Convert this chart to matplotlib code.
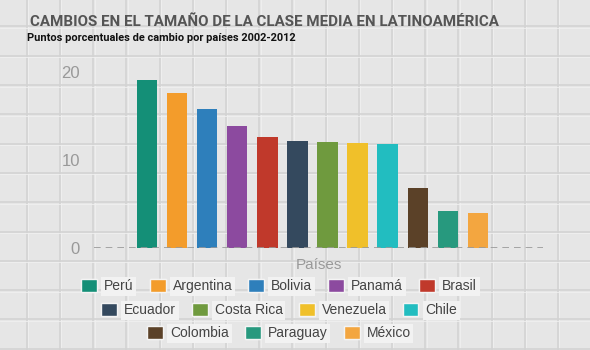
import numpy as np
import matplotlib.pyplot as plt
from matplotlib.lines import Line2D
from matplotlib.patches import Patch

paises = ['Perú', 'Argentina', 'Bolivia', 'Panamá', 'Brasil', 'Ecuador',
          'Costa Rica', 'Venezuela', 'Chile', 'Colombia', 'Paraguay', 'México']
cambio = [19.1, 17.6, 15.8, 13.9, 12.6, 12.2, 12.1, 11.95, 11.8, 6.85, 4.25, 3.95]
colores = ['#148f77', '#f39c2b', '#2e7fbb', '#8c4a9f', '#c0392b', '#34495e',
           '#6f9a3e', '#f0c02a', '#22bdc0', '#5b4128', '#27997e', '#f3a640']
yticks = [0, 10, 20]

W, H = 590, 350
fig = plt.figure(figsize=(5.9, 3.5), dpi=100, facecolor='#e6e6e6')

# tiled background
for x in np.arange(26.7, W, 33.2):
    fig.add_artist(Line2D([x / W, x / W], [0, 1], color='#d3d3d3', lw=1.2, zorder=0))
    fig.add_artist(Line2D([(x + 1.5) / W, (x + 1.5) / W], [0, 1], color='#f0f0f0', lw=0.6, zorder=0))
for y in np.arange(26.4, H, 29.3):
    fig.add_artist(Line2D([0, 1], [1 - y / H, 1 - y / H], color='#d3d3d3', lw=1.2, zorder=0))
    fig.add_artist(Line2D([0, 1], [1 - (y + 1.5) / H, 1 - (y + 1.5) / H], color='#f0f0f0', lw=0.6, zorder=0))

# axes: x from 94 to 543 px, y=0 at 248 px, y=20 at 72 px
y0, y20 = 248, 72
ymax = 23
ytop = y0 - (y0 - y20) * ymax / 20
ax = fig.add_axes([94 / W, 1 - y0 / H, (543 - 94) / W, (y0 - ytop) / H])
ax.set_facecolor('none')
xpos = np.arange(len(paises))
bars = ax.bar(xpos, cambio, width=0.68, color=colores, zorder=3)
ax.set_xlim(-1.76, 13.16)
ax.set_ylim(0, ymax)
ax.axhline(0, color='#999999', lw=1.2, ls=(0, (4, 3)), zorder=4)
for s in ax.spines.values():
    s.set_visible(False)
ax.set_xticks([])
ax.set_yticks(yticks)
ax.tick_params(axis='y', length=0, labelsize=12, labelcolor='#999999', pad=10)
for t in ax.get_yticklabels():
    t.set_family('Liberation Sans')

ax.set_xlabel('Países', fontsize=11, color='#999999', labelpad=7, family='Liberation Sans')

fig.text(30 / W, 1 - 22 / H, 'CAMBIOS EN EL TAMAÑO DE LA CLASE MEDIA EN LATINOAMÉRICA',
         fontsize=10.9, fontweight='bold', color='#555555', va='center',
         family=['Roboto', 'DejaVu Sans'])
fig.text(27 / W, 1 - 38 / H, 'Puntos porcentuales de cambio por países 2002-2012',
         fontsize=7.9, fontweight='bold', color='#111111', va='center',
         family=['Roboto', 'DejaVu Sans'])

rows = [(0, 5, 286), (5, 9, 310), (9, 12, 333)]
for a, b, yc in rows:
    handles = [Patch(facecolor=colores[i], edgecolor='#f4f4f4', lw=1.0) for i in range(a, b)]
    leg = fig.legend(handles, paises[a:b], loc='center', bbox_to_anchor=(279 / W, 1 - yc / H),
                     ncol=b - a, frameon=False, prop={'family': 'Liberation Sans', 'size': 10},
                     handlelength=1.15, handleheight=1.15, handletextpad=0.5,
                     columnspacing=1.15, labelcolor='#444444')
    for t in leg.get_texts():
        t.set_bbox(dict(facecolor='#f2f2f2', edgecolor='none', pad=2))
    fig.add_artist(leg)

fig.savefig('out.png', dpi=100, facecolor=fig.get_facecolor())
